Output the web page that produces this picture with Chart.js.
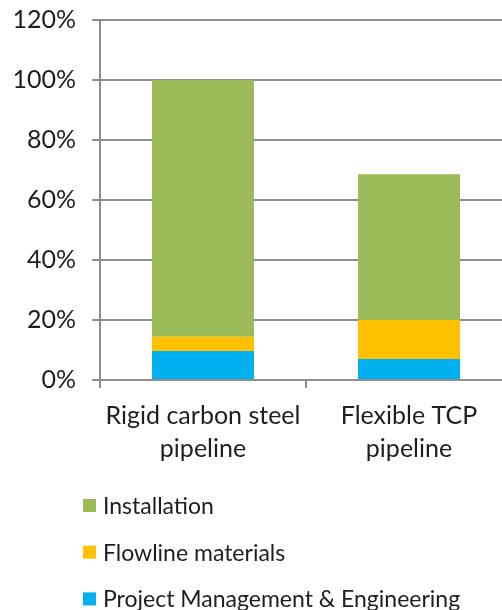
<!DOCTYPE html>
<html>
<head>
<meta charset="utf-8">
<style>
  html, body { margin: 0; padding: 0; background: #ffffff; overflow: hidden; }
  #wrap { position: relative; width: 512px; height: 610px; }
</style>
<script src="https://cdn.jsdelivr.net/npm/chart.js@4/dist/chart.umd.min.js"></script>
</head>
<body>
<div id="wrap"><canvas id="c" width="512" height="610"></canvas></div>
<script>
// Cost breakdown, share of the rigid pipeline total (%)
const categories = [['Rigid carbon steel', 'pipeline'], ['Flexible TCP', 'pipeline']];
const seriesNames = ['Project Management & Engineering', 'Flowline materials', 'Installation'];
const pmEngineering = [9.7, 7.0];
const flowlineMaterials = [4.7, 13.0];
const installation = [85.6, 48.6];
const yTickValues = [0, 20, 40, 60, 80, 100, 120];

const seriesColors = ['#00B0F0', '#FFC000', '#9BBB59'];
const FONT = 'Lato, "Open Sans", sans-serif';
const TEXT = '#1e1e1e';
const AXIS = '#8e8e8e';

// Vertical legend listed top to bottom (reverse of stacking order)
const verticalLegend = {
  id: 'verticalLegend',
  afterDraw(chart) {
    const ctx = chart.ctx;
    const sets = chart.data.datasets.slice().reverse();
    const x0 = 83, y0 = chart.chartArea.bottom + 119, step = 46.7, box = 13;
    ctx.save();
    ctx.font = '23px ' + FONT;
    ctx.textBaseline = 'middle';
    ctx.textAlign = 'left';
    sets.forEach((ds, i) => {
      const y = y0 + i * step;
      ctx.fillStyle = ds.backgroundColor;
      ctx.fillRect(x0, y, box, box);
      ctx.fillStyle = TEXT;
      ctx.fillText(ds.label, x0 + 20, y + box / 2 + 1);
    });
    ctx.restore();
  }
};

const seriesValues = [pmEngineering, flowlineMaterials, installation];

new Chart(document.getElementById('c'), {
  type: 'bar',
  data: {
    labels: categories,
    datasets: seriesNames.map((name, i) => ({
      label: name,
      data: seriesValues[i],
      backgroundColor: seriesColors[i],
      borderWidth: 0,
      barPercentage: 0.495,
      categoryPercentage: 1.0
    }))
  },
  options: {
    responsive: false,
    animation: false,
    devicePixelRatio: 1,
    layout: { padding: { top: 20, right: 0, bottom: 140, left: 0 } },
    plugins: {
      legend: { display: false },
      tooltip: { enabled: false }
    },
    scales: {
      x: {
        stacked: true,
        offset: true,
        grid: {
          offset: true,
          drawOnChartArea: false,
          drawTicks: true,
          tickLength: 8,
          color: AXIS,
          lineWidth: 2
        },
        border: { display: true, color: AXIS, width: 2 },
        ticks: {
          color: TEXT,
          font: { family: FONT, size: 25, lineHeight: 1.32 },
          padding: 11,
          maxRotation: 0,
          autoSkip: false
        },
        afterFit(scale) {
          scale.height = 90;
          scale.paddingLeft = 0;
          scale.paddingRight = 0;
        }
      },
      y: {
        stacked: true,
        min: 0,
        max: 120,
        afterBuildTicks(scale) { scale.ticks = yTickValues.map(v => ({ value: v })); },
        grid: {
          drawTicks: true,
          tickLength: 8,
          color: AXIS,
          lineWidth: 2
        },
        border: { display: true, color: AXIS, width: 2 },
        ticks: {
          color: TEXT,
          font: { family: FONT, size: 25 },
          padding: 16,
          callback: v => v + '%'
        },
        afterFit(scale) {
          scale.width = 100;
          scale.paddingTop = 0;
          scale.paddingBottom = 0;
        }
      }
    }
  },
  plugins: [verticalLegend]
});
</script>
</body>
</html>
